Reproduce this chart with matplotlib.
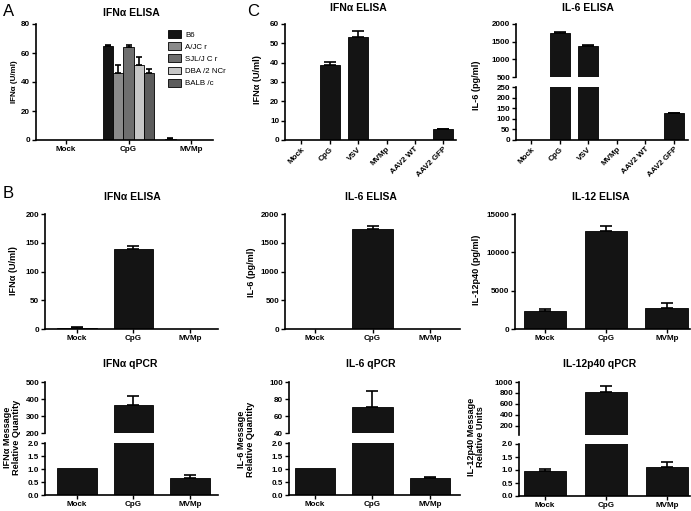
import matplotlib
matplotlib.use('Agg')
import matplotlib.pyplot as plt
from matplotlib.patches import Patch
import numpy as np

plt.rcParams['font.family'] = ['Liberation Sans', 'DejaVu Sans']
plt.rcParams['font.weight'] = 'bold'

# ---------------- data ----------------
# Panel A
a_groups = ['Mock', 'CpG', 'MVMp']
strains = ['B6', 'A/JC r', 'SJL/J C r', 'DBA /2 NCr', 'BALB /c']
strain_colors = ['#141414', '#8a8a8a', '#6e6e6e', '#c6c6c6', '#5c5c5c']
a_b6 = [0, 65.0, 1.0]
a_b6_err = [0, 0.6, 0.3]
a_aj = [0, 46.0, 0]
a_aj_err = [0, 5.5, 0]
a_sjl = [0, 64.0, 0]
a_sjl_err = [0, 1.5, 0]
a_dba = [0, 52.0, 0]
a_dba_err = [0, 5.5, 0]
a_balb = [0, 46.5, 0]
a_balb_err = [0, 2.5, 0]

# Panel C
c_cats = ['Mock', 'CpG', 'VSV', 'MVMp', 'AAV2 WT', 'AAV2 GFP']
c_ifn = [0, 38.8, 53.2, 0, 0, 5.5]
c_ifn_err = [0, 1.3, 3.0, 0, 0, 0.3]
c_il6 = [0, 1750, 1390, 0, 0, 125]
c_il6_err = [0, 25, 18, 0, 0, 3]

# Panel B
b_cats = ['Mock', 'CpG', 'MVMp']
b_ifn_elisa = [2.0, 139, 0]
b_ifn_elisa_err = [1.5, 6, 0]
b_il6_elisa = [0, 1745, 0]
b_il6_elisa_err = [0, 50, 0]
b_il12_elisa = [2300, 12800, 2750]
b_il12_elisa_err = [250, 700, 700]
b_ifn_qpcr = [1.02, 365, 0.65]
b_ifn_qpcr_err = [0, 55, 0.13]
b_il6_qpcr = [1.02, 71, 0.66]
b_il6_qpcr_err = [0, 19, 0.03]
b_il12_qpcr = [0.95, 815, 1.13]
b_il12_qpcr_err = [0.07, 120, 0.17]

# ---------------- layout helpers ----------------
W, H = 691, 511
fig = plt.figure(figsize=(W / 100, H / 100), dpi=100)

TICK_FS = 5.8
TITLE_FS = 7.5
YL_FS = 6.6
BAR_COLOR = '#141414'


def add_ax(x0, y0, x1, y1):
    return fig.add_axes([x0 / W, 1 - y1 / H, (x1 - x0) / W, (y1 - y0) / H])


def style(ax, bottom=True):
    ax.patch.set_alpha(0)
    for s in ['top', 'right']:
        ax.spines[s].set_visible(False)
    ax.spines['left'].set_linewidth(1.2)
    ax.spines['bottom'].set_linewidth(1.2)
    ax.tick_params(axis='both', direction='out', length=3, width=1.0,
                   labelsize=TICK_FS, pad=1.2)
    if not bottom:
        ax.spines['bottom'].set_visible(False)
        ax.tick_params(axis='x', bottom=False, labelbottom=False)


def bars(ax, x, vals, errs, width=0.7, color=BAR_COLOR, capsize=4.6):
    x = np.asarray(x, dtype=float)
    vals = np.asarray(vals, dtype=float)
    errs = np.asarray(errs, dtype=float)
    ax.bar(x, vals, width, color=color, edgecolor='black', linewidth=0.6)
    m = errs > 0
    if m.any():
        ax.errorbar(x[m], vals[m], yerr=[np.zeros(m.sum()), errs[m]], fmt='none',
                    ecolor='black', elinewidth=1.2, capsize=capsize, capthick=1.2)


def ftext(x, y, s, **kw):
    fig.text(x / W, 1 - y / H, s, **kw)


# ---------------- Panel A ----------------
ax = add_ax(36, 24, 213, 140)
xa = np.arange(len(a_groups))
bw = 0.165
series = [(a_b6, a_b6_err), (a_aj, a_aj_err), (a_sjl, a_sjl_err),
          (a_dba, a_dba_err), (a_balb, a_balb_err)]
for i, (v, e) in enumerate(series):
    bars(ax, xa + (i - 2) * bw, v, e, width=bw, color=strain_colors[i], capsize=2.2)
ax.set_xlim(-0.48, 2.35)
ax.set_ylim(0, 80)
ax.set_yticks([0, 20, 40, 60, 80])
ax.set_xticks(xa)
ax.set_xticklabels(a_groups)
style(ax)
handles = [Patch(facecolor=c, edgecolor='black', linewidth=0.6) for c in strain_colors]
ax.legend(handles, strains, loc='upper left', bbox_to_anchor=(168 / W, 1 - 30 / H),
          bbox_transform=fig.transFigure, frameon=False,
          prop={'size': 5.7, 'weight': 'normal'}, handlelength=1.65, handleheight=1.15,
          labelspacing=0.45, handletextpad=0.5, borderpad=0, borderaxespad=0)
ftext(131, 13, 'IFNα ELISA', ha='center', va='center', fontsize=TITLE_FS)
ftext(15, 82, 'IFNα (U/ml)', ha='center', va='center', rotation=90, fontsize=5.8)
ftext(3, 12, 'A', ha='left', va='center', fontsize=12, fontweight='normal')

# ---------------- Panel C ----------------
xc = np.arange(len(c_cats))
ax = add_ax(285, 24, 456, 140)
bars(ax, xc, c_ifn, c_ifn_err, capsize=4.0)
ax.set_xlim(-0.58, 5.45)
ax.set_ylim(0, 60)
ax.set_yticks(np.arange(0, 61, 10))
ax.set_xticks(xc)
ax.set_xticklabels(c_cats, rotation=45, ha='right', rotation_mode='anchor')
style(ax)
ftext(358, 8, 'IFNα ELISA', ha='center', va='center', fontsize=TITLE_FS)
ftext(257, 80, 'IFNα (U/ml)', ha='center', va='center', rotation=90, fontsize=YL_FS)
ftext(247, 12, 'C', ha='left', va='center', fontsize=12, fontweight='normal')

axt = add_ax(516, 24, 688, 77)
axb = add_ax(516, 87, 688, 140)
for a in (axt, axb):
    bars(a, xc, c_il6, c_il6_err, capsize=4.0)
    a.set_xlim(-0.53, 5.5)
axt.set_ylim(500, 2000)
axt.set_yticks([500, 1000, 1500, 2000])
axb.set_ylim(0, 250)
axb.set_yticks([0, 50, 100, 150, 200, 250])
axb.set_xticks(xc)
axb.set_xticklabels(c_cats, rotation=45, ha='right', rotation_mode='anchor')
style(axt, bottom=False)
style(axb)
ftext(588, 8, 'IL-6 ELISA', ha='center', va='center', fontsize=TITLE_FS)
ftext(477, 85, 'IL-6 (pg/ml)', ha='center', va='center', rotation=90, fontsize=YL_FS)

# ---------------- Panel B, row 1 ----------------
xb = np.arange(len(b_cats))
row1 = [
    ((45, 214, 218, 329), (-0.57, 2.5), b_ifn_elisa, b_ifn_elisa_err, 200, [0, 50, 100, 150, 200],
     'IFNα ELISA', (132, 197), 'IFNα (U/ml)', (14, 271)),
    ((285, 214, 460, 329), (-0.52, 2.52), b_il6_elisa, b_il6_elisa_err, 2000, [0, 500, 1000, 1500, 2000],
     'IL-6 ELISA', (371, 197), 'IL-6 (pg/ml)', (252, 272)),
    ((515, 214, 690, 329), (-0.49, 2.38), b_il12_elisa, b_il12_elisa_err, 15000, [0, 5000, 10000, 15000],
     'IL-12 ELISA', (601, 197), 'IL-12p40 (pg/ml)', (477, 270)),
]
for box, xl, v, e, ymax, yt, title, tpos, yl, ylpos in row1:
    ax = add_ax(*box)
    bars(ax, xb, v, e)
    ax.set_xlim(*xl)
    ax.set_ylim(0, ymax)
    ax.set_yticks(yt)
    ax.set_xticks(xb)
    ax.set_xticklabels(b_cats)
    style(ax)
    ftext(tpos[0], tpos[1], title, ha='center', va='center', fontsize=TITLE_FS)
    ftext(ylpos[0], ylpos[1], yl, ha='center', va='center', rotation=90, fontsize=YL_FS)
ftext(3, 193, 'B', ha='left', va='center', fontsize=12, fontweight='normal')

# ---------------- Panel B, row 2 (broken axes) ----------------
row2 = [
    ((45, 382, 218, 433), (45, 443, 218, 495), (-0.57, 2.5), b_ifn_qpcr, b_ifn_qpcr_err,
     (200, 500), [200, 300, 400, 500], 'IFNα qPCR', (130, 364),
     'IFNα Message\nRelative Quantity', (12, 437)),
    ((289, 382, 460, 433), (289, 443, 460, 495), (-0.45, 2.52), b_il6_qpcr, b_il6_qpcr_err,
     (40, 100), [40, 60, 80, 100], 'IL-6 qPCR', (371, 364),
     'IL-6 Message\nRelative Quantity', (246, 439)),
    ((519, 382, 690, 435), (519, 444, 690, 496), (-0.43, 2.38), b_il12_qpcr, b_il12_qpcr_err,
     (35, 1000), [200, 400, 600, 800, 1000], 'IL-12p40 qPCR', (600, 364),
     'IL-12p40 Message\nRelative Units', (476, 437)),
]
for tbox, bbox, xl, v, e, tyl, tyt, title, tpos, yl, ylpos in row2:
    axt = add_ax(*tbox)
    axb = add_ax(*bbox)
    for a in (axt, axb):
        bars(a, xb, v, e)
        a.set_xlim(*xl)
    axt.set_ylim(*tyl)
    axt.set_yticks(tyt)
    axb.set_ylim(0, 2.0)
    axb.set_yticks([0.0, 0.5, 1.0, 1.5, 2.0])
    axb.set_yticklabels(['0.0', '0.5', '1.0', '1.5', '2.0'])
    axb.set_xticks(xb)
    axb.set_xticklabels(b_cats)
    style(axt, bottom=False)
    style(axb)
    ftext(tpos[0], tpos[1], title, ha='center', va='center', fontsize=TITLE_FS)
    ftext(ylpos[0], ylpos[1], yl, ha='center', va='center', rotation=90,
          fontsize=YL_FS, multialignment='center', linespacing=1.1)

fig.savefig('out.png', dpi=100, facecolor='white')
